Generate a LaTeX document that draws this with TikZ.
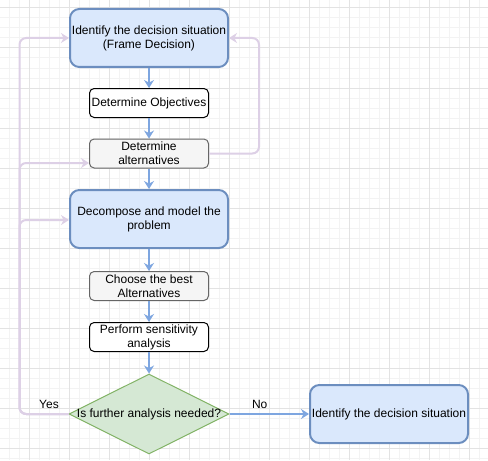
\documentclass[tikz,border=0pt]{standalone}
\usepackage{fontspec}
\setmainfont{Liberation Sans}
\usetikzlibrary{arrows.meta,shapes.geometric}
\definecolor{bluefill}{HTML}{DAE8FC}
\definecolor{bluedraw}{HTML}{6C8EBF}
\definecolor{arrowblue}{HTML}{7EA6E0}
\definecolor{grayfill}{HTML}{F5F5F5}
\definecolor{graydraw}{HTML}{666666}
\definecolor{greenfill}{HTML}{D5E8D4}
\definecolor{greendraw}{HTML}{82B366}
\definecolor{lav}{HTML}{DDD0E6}
\definecolor{gridminor}{HTML}{F3F3F3}
\definecolor{gridmajor}{HTML}{E3E3E3}
\tikzset{
  every node/.style={font=\fontsize{9}{10.5}\selectfont, text=black, align=center, inner sep=0pt},
  bigbox/.style={draw=bluedraw, fill=bluefill, line width=1.5pt, rounded corners=7pt, minimum width=160*0.75pt-1.5pt, minimum height=60*0.75pt-1.5pt},
  whitebox/.style={draw=black, fill=white, line width=0.75pt, rounded corners=3.5pt, minimum width=120*0.75pt-0.75pt, minimum height=30*0.75pt-0.75pt},
  graybox/.style={draw=graydraw, fill=grayfill, line width=0.75pt, rounded corners=3.5pt, minimum width=120*0.75pt-0.75pt, minimum height=30*0.75pt-0.75pt},
  decision/.style={diamond, draw=greendraw, fill=greenfill, line width=0.75pt, minimum width=160*0.75pt, minimum height=80*0.75pt, aspect=2, inner sep=0pt},
  flow/.style={draw=arrowblue, line width=1.5pt, -{Stealth[length=6pt, width=7.5pt, inset=2pt]}},
  back/.style={draw=lav, line width=1.5pt, rounded corners=5pt, -{Stealth[length=6pt, width=7.5pt, inset=2pt]}},
  lbl/.style={font=\fontsize{9}{10.5}\selectfont}
}
\begin{document}
\begin{tikzpicture}[x=0.75pt, y=-0.75pt]
\useasboundingbox (0,0) rectangle (488,460);
\fill[white] (0,0) rectangle (488,460);
% grid
\foreach \gx in {-1,9,...,489} \draw[gridminor, line width=0.75pt] (\gx,0) -- (\gx,460);
\foreach \gy in {-2,8,...,458} \draw[gridminor, line width=0.75pt] (0,\gy) -- (488,\gy);
\foreach \gx in {29,69,...,469} \draw[gridmajor, line width=0.75pt] (\gx,0) -- (\gx,460);
\foreach \gy in {8,48,...,448} \draw[gridmajor, line width=0.75pt] (0,\gy) -- (488,\gy);

% nodes
\node[bigbox] (b1) at (149,38) {Identify the decision situation\\(Frame Decision)};
\node[whitebox] (obj) at (149,103) {Determine Objectives};
\node[graybox] (alt) at (149,153.5) {Determine\\alternatives};
\node[bigbox] (dec) at (149,219) {Decompose and model the\\problem};
\node[graybox] (best) at (149,286) {Choose the best\\Alternatives};
\node[whitebox] (sens) at (149,337) {Perform sensitivity\\analysis};
\node[decision] (dia) at (149,414) {};
\node (diat) at (149,414) {Is further analysis needed?};
\node[bigbox] (fin) at (389,414) {Identify the decision situation};

\coordinate (lx1) at (19.5,38);
\coordinate (lx2) at (19.5,163);
\coordinate (lx3) at (19.5,220);
\coordinate (lb) at (19.5,414);
\coordinate (rx1) at (259,38);
\coordinate (rx2) at (259,153.5);

% feedback lines
\draw[back] (dia.west) -- (lb) -- (lx1) -- (b1.west);
\draw[back] (dia.west) -- (lb) -- (lx2) -- (alt.west |- lx2);
\draw[back] (dia.west) -- (lb) -- (lx3) -- (dec.west |- lx3);
\draw[back] (alt.east) -- (rx2) -- (rx1) -- (b1.east);

% main flow
\draw[flow] (b1) -- (obj);
\draw[flow] (obj) -- (alt);
\draw[flow] (alt) -- (dec);
\draw[flow] (dec) -- (best);
\draw[flow] (best) -- (sens);
\draw[flow] (sens) -- (dia);
\draw[flow] (dia.east) -- (fin.west) node[lbl, pos=0.38, yshift=7.5pt] (no) {No};
\node[lbl] (yes) at (49,404) {Yes};
\end{tikzpicture}
\end{document}
